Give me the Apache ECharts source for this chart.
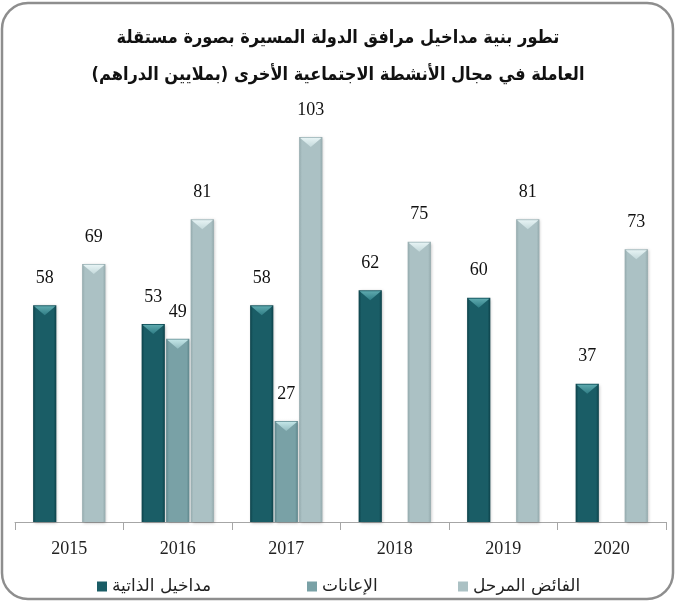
<!DOCTYPE html>
<html>
<head>
<meta charset="utf-8">
<script src="https://cdn.jsdelivr.net/npm/echarts@6/dist/echarts.min.js"></script>
<style>
html,body{margin:0;padding:0;background:#fff;}
#c{width:676px;height:601px;}
</style>
</head>
<body>
<div id="c"></div>
<script>
const years = ['2015', '2016', '2017', '2018', '2019', '2020'];
const ownRevenue = [58, 53, 58, 62, 60, 37];
const subsidies = [null, 49, 27, null, null, null];
const surplus = [69, 81, 103, 75, 81, 73];
const seriesNames = ['مداخيل الذاتية', 'الإعانات', 'الفائض المرحل'];
const titleText = 'تطور بنية مداخيل مرافق الدولة المسيرة بصورة مستقلة\nالعاملة في مجال الأنشطة الاجتماعية الأخرى (بملايين الدراهم)\u200F';

const palettes = [
  {body: '#1a5d66', edge: '#0c4149', cap: '#5ea9ae', capLow: '#2f7d85'},
  {body: '#79a1a6', edge: '#5d858b', cap: '#c2e4e6', capLow: '#93bcc0'},
  {body: '#abc1c4', edge: '#93a9ac', cap: '#e6f3f4', capLow: '#c4d9db'}
];

function makeRender(idx) {
  const p = palettes[idx];
  return function (params, api) {
    const v = api.value(1);
    if (v == null || isNaN(v)) return null;
    const cat = api.value(0);
    const t = api.coord([cat, v]);
    const b = api.coord([cat, 0]);
    const band = api.size([1, 0])[0];
    const w = band * 0.214;
    const off = band * 0.226 * (idx - 1);
    const cx = t[0] + off;
    const x0 = cx - w / 2, x1 = cx + w / 2;
    const top = t[1], bot = b[1];
    const capH = Math.min(10, bot - top);
    return {
      type: 'group',
      children: [
        {
          type: 'rect',
          shape: {x: x0, y: top, width: w, height: bot - top},
          style: {
            fill: new echarts.graphic.LinearGradient(0, 0, 1, 0, [
              {offset: 0, color: p.edge},
              {offset: 0.12, color: p.body},
              {offset: 0.6, color: p.body},
              {offset: 0.88, color: p.body},
              {offset: 1, color: p.edge}
            ]),
            shadowBlur: 3,
            shadowColor: 'rgba(0,0,0,0.25)',
            shadowOffsetX: 1,
            shadowOffsetY: 1
          }
        },
        {
          type: 'polygon',
          shape: {points: [[x0 + 1, top + 1], [x1 - 1, top + 1], [cx, top + capH]]},
          style: {
            fill: new echarts.graphic.LinearGradient(0, 0, 0, 1, [
              {offset: 0, color: p.cap},
              {offset: 1, color: p.capLow}
            ])
          }
        },
        {
          type: 'text',
          style: {
            text: String(v),
            x: cx,
            y: top - 27,
            align: 'center',
            verticalAlign: 'middle',
            fontFamily: 'Liberation Serif',
            fontSize: 18,
            fill: '#111'
          }
        }
      ]
    };
  };
}

const seriesData = [ownRevenue, subsidies, surplus];
const chart = echarts.init(document.getElementById('c'), null, {renderer: 'canvas'});
const legendLefts = [92, 302, 453];

chart.setOption({
  animation: false,
  backgroundColor: '#fff',
  title: {
    text: titleText,
    left: 'center',
    top: 15,
    textStyle: {
      fontFamily: 'DejaVu Sans Condensed',
      fontWeight: 'bold',
      fontSize: 18,
      lineHeight: 37,
      color: '#111'
    }
  },
  legend: seriesNames.map((n, i) => ({
    data: [n],
    left: legendLefts[i],
    top: 573,
    icon: 'rect',
    itemWidth: 10,
    itemHeight: 10,
    itemGap: 6,
    selectedMode: false,
    textStyle: {fontFamily: 'DejaVu Sans', fontSize: 17, color: '#222'}
  })),
  grid: {left: 15, right: 10, top: 73.5, bottom: 79, containLabel: false},
  xAxis: {
    type: 'category',
    data: years,
    boundaryGap: true,
    axisLine: {lineStyle: {color: '#a6a6a6', width: 1}},
    axisTick: {show: true, length: 8, lineStyle: {color: '#a6a6a6'}},
    axisLabel: {fontFamily: 'Liberation Serif', fontSize: 18, color: '#222', margin: 18}
  },
  yAxis: {
    type: 'value',
    min: 0,
    max: 120,
    show: false,
    splitLine: {show: false}
  },
  graphic: [{
    type: 'rect',
    shape: {x: 2, y: 3, width: 671, height: 596, r: 26},
    style: {fill: 'none', stroke: '#8e8e8e', lineWidth: 2.5},
    silent: true,
    z: 100
  }],
  series: seriesNames.map((n, i) => ({
    name: n,
    type: 'custom',
    itemStyle: {color: palettes[i].body},
    renderItem: makeRender(i),
    encode: {x: 0, y: 1},
    data: years.map((y, k) => [k, seriesData[i][k]])
  }))
});
</script>
</body>
</html>
